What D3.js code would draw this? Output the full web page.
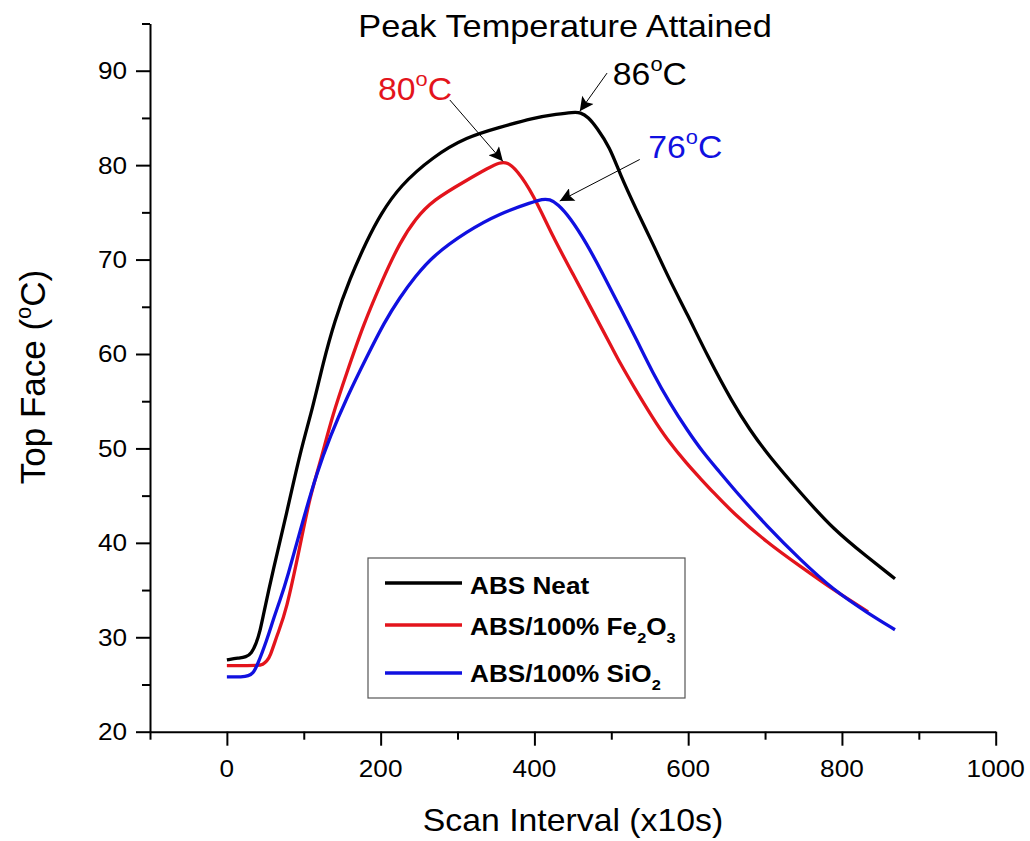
<!DOCTYPE html>
<html><head><meta charset="utf-8">
<script src="https://cdn.jsdelivr.net/npm/d3@7"></script>
<style>body{margin:0;background:#fff}svg{display:block}text{font-family:"Liberation Sans",Arial,sans-serif}</style>
</head><body><svg id="c" width="1030" height="841"></svg>
<script>
// ---- data ----
const neatX = [0,15,25,32,38,43,47,60,78,95,112,125,140,160,182,200,225,268,312,355,398,430,450,460,470,481,498,511,533,554,576,599,625,658,680,703,746,789,833,869];
const neatY = [27.6,27.8,27.9,28.3,29.3,30.6,32.2,37.1,43.2,49.5,54.4,59.0,63.5,68.0,72.0,74.8,77.8,80.9,83.0,84.0,85.0,85.4,85.6,85.6,85.1,84.0,81.9,79.1,75.2,71.7,67.8,64.2,59.8,54.8,52.0,49.4,45.3,41.4,38.5,36.2];
const feX = [0,20,40,47,52,56,66,77,95,108,121,138,156,177,203,225,245,268,312,340,355,365,377,398,424,450,476,489,502,511,528,554,572,599,615,632,658,703,746,789,834];
const feY = [27.0,27.0,27.0,27.1,27.5,27.9,30.4,32.7,39.6,44.9,48.4,53.7,58.0,63.0,68.0,71.8,74.3,76.3,78.4,79.7,80.3,80.3,79.5,77.0,72.4,68.5,64.5,62.5,60.5,59.1,56.7,53.2,51.0,48.3,46.9,45.4,43.2,40.0,37.5,35.0,32.7];
const siX = [0,20,28,34,39,52,60,69,78,99,117,134,156,182,205,225,245,268,312,355,398,410,420,430,446,468,489,511,533,554,576,599,619,642,658,703,746,789,833,869];
const siY = [25.8,25.8,25.9,26.2,26.9,29.7,31.8,33.9,36.1,42.4,47.4,51.2,55.4,59.7,63.4,66.0,68.2,70.4,73.0,74.9,76.1,76.4,76.4,75.9,74.5,71.7,68.5,65.0,61.5,58.0,54.8,51.9,49.6,47.4,45.8,41.7,38.2,35.0,32.6,30.8];
const seriesNames = ["ABS Neat","ABS/100% Fe2O3","ABS/100% SiO2"];
const xMajor = [0,200,400,600,800,1000];
const xMinor = [-100,100,300,500,700,900];
const yMajor = [20,30,40,50,60,70,80,90];
const yMinor = [25,35,45,55,65,75,85,95];
// annotations: label value, tip (x,T), arrow start (x,T), text anchor (x,T)
const annoLabels = ["86","80","76"];
const annoTip = [[459,85.7],[359,80.4],[433,76.2]];
const annoStart = [[494.5,89.75],[290,86.9],[537,80.6]];
const annoText = [[502,88.5],[196.5,86.9],[548,80.8]];

const colors = ["#000000","#e3141c","#1010e0"];
const SX = 1.09;
const svg = d3.select("#c");
const x = d3.scaleLinear([-100,1000],[150,995.7]);
const y = d3.scaleLinear([20,95],[731.7,23.5]);

function txt(px,py,anchor,size,weight,fill){
  const g = svg.append("g").attr("transform",`translate(${px},${py}) scale(${SX},1)`);
  return g.append("text").attr("text-anchor",anchor).attr("font-size",size)
    .attr("font-weight",weight||"normal").attr("fill",fill||"#000");
}

svg.append("defs").append("marker").attr("id","ah").attr("viewBox","0 0 10 10")
  .attr("refX",10).attr("refY",5).attr("markerWidth",16).attr("markerHeight",14)
  .attr("markerUnits","userSpaceOnUse").attr("orient","auto")
  .append("path").attr("d","M0,0 L10,5 L0,10 L2,5 Z").attr("fill","#000");

// axes
const ya = svg.append("g").attr("transform","translate(150,0)");
ya.call(d3.axisLeft(y).tickValues(yMajor).tickSize(14).tickSizeOuter(0).tickFormat(""));
const ym = svg.append("g").attr("transform","translate(150,0)");
ym.call(d3.axisLeft(y).tickValues(yMinor).tickSize(8).tickSizeOuter(0).tickFormat(""));
ym.select(".domain").remove();
const xa = svg.append("g").attr("transform","translate(0,731.7)");
xa.call(d3.axisBottom(x).tickValues(xMajor).tickSize(14).tickSizeOuter(0).tickFormat(""));
const xm = svg.append("g").attr("transform","translate(0,731.7)");
xm.call(d3.axisBottom(x).tickValues(xMinor).tickSize(8).tickSizeOuter(0).tickFormat(""));
xm.select(".domain").remove();
svg.selectAll(".domain, .tick line").attr("stroke","#000").attr("stroke-width",2);

yMajor.forEach(v=>{ txt(127,y(v)+8.5,"end",24).text(v); });
xMajor.forEach(v=>{ txt(x(v),777,"middle",24).text(v); });

// titles
txt(565,37,"middle",31.5).text("Peak Temperature Attained");
txt(573,831,"middle",31).text("Scan Interval (x10s)");
{
  const g = svg.append("g").attr("transform",`translate(45,377) rotate(-90)`);
  const t = g.append("text").attr("text-anchor","middle").attr("font-size",35);
  t.append("tspan").text("Top Face (");
  t.append("tspan").attr("font-size",22).attr("dy",-14).text("o");
  t.append("tspan").attr("dy",14).text("C)");
}

// lines
const line = d3.line().x(d=>x(d[0])).y(d=>y(d[1])).curve(d3.curveBasis);
const allSeries = [d3.zip(neatX,neatY), d3.zip(feX,feY), d3.zip(siX,siY)];
allSeries.forEach((s,i)=>{
  svg.append("path").datum(s).attr("d",line).attr("fill","none")
    .attr("stroke",colors[i]).attr("stroke-width",3.3).attr("stroke-linejoin","round");
});

// annotations
annoLabels.forEach((lab,i)=>{
  svg.append("line").attr("x1",x(annoStart[i][0])).attr("y1",y(annoStart[i][1]))
    .attr("x2",x(annoTip[i][0])).attr("y2",y(annoTip[i][1]))
    .attr("stroke","#000").attr("stroke-width",1).attr("marker-end","url(#ah)");
  const t = txt(x(annoText[i][0]),y(annoText[i][1]),"start",31,"normal",colors[i]);
  t.append("tspan").text(lab);
  t.append("tspan").attr("font-size",20).attr("dy",-14).text("o");
  t.append("tspan").attr("dy",14).text("C");
});

// legend
svg.append("rect").attr("x",368).attr("y",558).attr("width",317).attr("height",140)
  .attr("fill","#fff").attr("stroke","#555").attr("stroke-width",1.2);
const rowsY = [583,625,673];
const baseY = [594,635,682];
rowsY.forEach((ry,i)=>{
  svg.append("line").attr("x1",385).attr("x2",462).attr("y1",ry).attr("y2",ry)
    .attr("stroke",colors[i]).attr("stroke-width",3.3);
});
{
  txt(470,baseY[0],"start",24,"bold").text("ABS Neat");
  const t2 = txt(470,baseY[1],"start",24,"bold");
  t2.append("tspan").text("ABS/100% Fe");
  t2.append("tspan").attr("font-size",15).attr("dy",8).text("2");
  t2.append("tspan").attr("dy",-8).text("O");
  t2.append("tspan").attr("font-size",15).attr("dy",8).text("3");
  const t3 = txt(470,baseY[2],"start",24,"bold");
  t3.append("tspan").text("ABS/100% SiO");
  t3.append("tspan").attr("font-size",15).attr("dy",8).text("2");
}
</script></body></html>
